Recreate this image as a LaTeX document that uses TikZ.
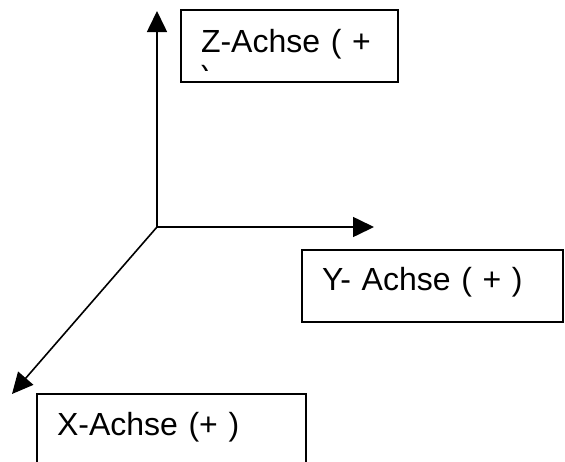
\documentclass[tikz,border=0pt]{standalone}
\usepackage{fontspec}
\setmainfont{Liberation Sans}
\usetikzlibrary{arrows.meta}

\begin{document}
\begin{tikzpicture}[x=1pt,y=-1pt]
\tikzstyle{axis}=[line width=1.6pt,-{Triangle[length=21pt,width=20pt]}]
\tikzstyle{labelbox}=[draw,line width=1.5pt,anchor=north west,outer sep=0pt,inner xsep=20pt,inner ysep=0pt,align=left,font=\fontsize{32}{37}\selectfont]
\tikzstyle{overflow}=[anchor=base west,inner sep=0pt,font=\fontsize{32}{37}\selectfont]

\useasboundingbox (0,0) rectangle (565,461);

%% ========== AXES ==========
\coordinate (origin) at (157,227);
\coordinate (z-tip) at (157,11);
\coordinate (y-tip) at (374,227);
\coordinate (x-tip) at (12,394);

\draw[axis] (origin) -- (z-tip);
\draw[axis] (origin) -- (y-tip);
\draw[axis] (origin) -- (x-tip);

%% ========== LABELS ==========
\node[labelbox,text width=177pt,text height=42pt,text depth=30pt] (z-label) at (181,10) {Z-Achse ( +};
% second line runs out of the box and is cut off
\begin{scope}
\clip (181,10) rectangle (398,70);
\node[overflow] (z-label-rest) at (201,88) {)};
\end{scope}

\node[labelbox,text width=221pt,text height=40pt,text depth=32pt] (y-label) at (302,250) {Y- Achse ( + )};

\node[labelbox,text width=229pt,text height=41pt,text depth=40pt] (x-label) at (37,394) {X-Achse (+ )};

\end{tikzpicture}
\end{document}
